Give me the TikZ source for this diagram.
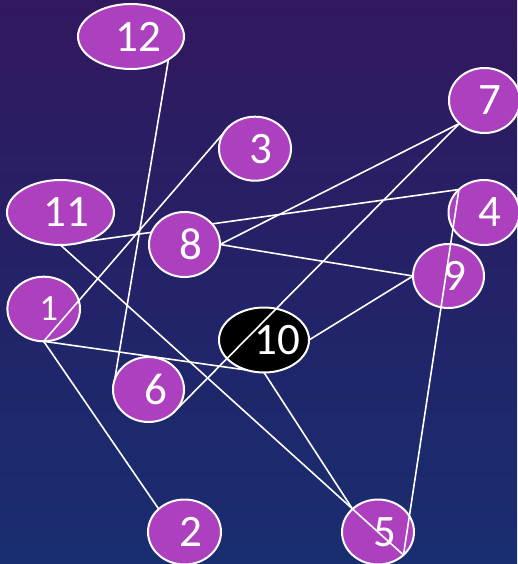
\documentclass[tikz,border=0pt]{standalone}
\usepackage{fontspec}
\setmainfont{Carlito}
\usetikzlibrary{calc,shapes.geometric}
\definecolor{nodefill}{RGB}{172,64,190}
\definecolor{bgtop}{RGB}{50,24,94}
\definecolor{bgmid}{RGB}{36,34,104}
\definecolor{bgbot}{RGB}{24,46,112}
\pgfdeclarelayer{bg}
\pgfdeclarelayer{lower}
\pgfsetlayers{bg,lower,main}
\tikzset{
  vert/.style={ellipse, draw=white, line width=2pt, fill=nodefill, text=white,
    inner sep=0pt, outer sep=0pt, font=\fontsize{45}{45}\selectfont},
  edge/.style={draw=white, line width=1.6pt},
}
% [style] name, x, y, rx, ry, text shift, text
\newcommand\gnode[8][]{%
  \node[vert, minimum width={2*#5pt}, minimum height={2*#6pt}, #1] (#2) at (#3,#4)
    {\makebox[0pt]{\hspace*{#7pt}\raisebox{-1.5pt}{#8}}};
  \coordinate (#2-ne) at ($(#2)+({0.7071*#5},{-0.7071*#6})$);
  \coordinate (#2-nw) at ($(#2)+({-0.7071*#5},{-0.7071*#6})$);
  \coordinate (#2-se) at ($(#2)+({0.7071*#5},{0.7071*#6})$);
  \coordinate (#2-sw) at ($(#2)+({-0.7071*#5},{0.7071*#6})$);
}
\begin{document}
\begin{tikzpicture}[x=1pt,y=-1pt]
\useasboundingbox (0,0) rectangle (517,564);
\begin{pgfonlayer}{bg}
  \fill[top color=bgtop, bottom color=bgbot, middle color=bgmid] (0,0) rectangle (517,564);
\end{pgfonlayer}

\gnode{n12}{131}{36.5}{53}{32.5}{14}{12}
\gnode{n11}{60.5}{212.5}{53.5}{32.5}{12}{11}
\gnode{n3}{255}{148.7}{36}{32}{12}{3}
\gnode{n7}{484.5}{100.5}{35.5}{32.5}{11}{7}
\gnode{n4}{484}{212.5}{35.5}{32.5}{11}{4}
\gnode{n8}{184.5}{244.5}{35.5}{32.5}{13}{8}
\gnode{n9}{448.5}{276}{35.5}{32}{13}{9}
\gnode[fill=black]{n10}{264}{340}{45}{32.5}{26}{10}
\gnode{n6}{148.5}{389.5}{35.5}{32.5}{15}{6}
\gnode{n2}{184.5}{532}{36.5}{32.5}{12}{2}
\gnode{n5}{378}{532}{36}{32.5}{14}{5}

\begin{pgfonlayer}{lower}
  \gnode[font=\fontsize{37}{37}\selectfont]{n1}{43.7}{309}{36.3}{32.3}{10}{1}
  \draw[edge] (n11.south) -- (n4-nw);
  \draw[edge] (n12-se) -- (n6.west);
  \draw[edge] (n10.south) -- (n5-nw);
  \draw[edge] (n1.south) -- (n10.south);
  \draw[edge] (n1.south) -- (n2-nw);
  \draw[edge] (n8.east) -- (n7-sw);
  \draw[edge] (n8.east) -- (n9.west);
  \draw[edge] (n10.east) -- (n9.west);
  \draw[edge] (n1.south) -- (n3-nw);
\end{pgfonlayer}

\draw[edge] (n7-sw) -- (n6-se);
\draw[edge] (n4-nw) -- (n5-se);
\draw[edge] (n11.south) -- (n5-se);
\end{tikzpicture}
\end{document}
